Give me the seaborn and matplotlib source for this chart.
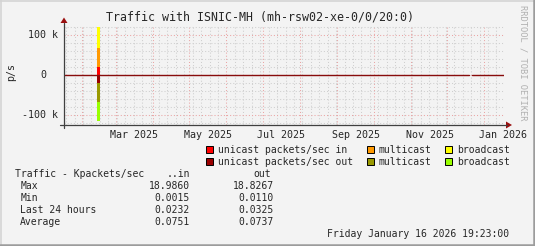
import numpy as np
import pandas as pd
import matplotlib
matplotlib.use("Agg")
import matplotlib.pyplot as plt
import matplotlib.dates as mdates
import matplotlib.transforms as mtrans
from matplotlib.patches import Rectangle
import seaborn as sns

# ---------------- data (k packets/s) ----------------
times = ["2025-01-16 19:23", "2025-02-14 00:00", "2025-02-16 06:00",
         "2025-12-19 00:00", "2025-12-22 00:00", "2026-01-16 19:23"]
unicast_in = [0.02, 18.986, 0.02, np.nan, 0.02, 0.02]
multicast_in = [0.0, 49.0, 0.0, np.nan, 0.0, 0.0]
broadcast_in = [0.0, 51.0, 0.0, np.nan, 0.0, 0.0]
unicast_out = [0.03, 18.83, 0.03, np.nan, 0.03, 0.03]
multicast_out = [0.0, 48.0, 0.0, np.nan, 0.0, 0.0]
broadcast_out = [0.0, 48.3, 0.0, np.nan, 0.0, 0.0]

x_labels = ["Mar 2025", "May 2025", "Jul 2025", "Sep 2025", "Nov 2025", "Jan 2026"]
x_label_dates = ["2025-03-16 12:00", "2025-05-16 12:00", "2025-07-16 12:00",
                 "2025-09-16 12:00", "2025-11-16 12:00", "2026-01-16 12:00"]

legend_items = [("unicast packets/sec in", "#ff0000"), ("multicast", "#ff9900"), ("broadcast", "#ffff00"),
                ("unicast packets/sec out", "#990000"), ("multicast", "#999900"), ("broadcast", "#99ff00")]

stat_rows = ["Max", "Min", "Last 24 hours", "Average"]
stat_in = ["18.9860", "0.0015", "0.0232", "0.0751"]
stat_out = ["18.8267", "0.0110", "0.0325", "0.0737"]

title = "Traffic with ISNIC-MH (mh-rsw02-xe-0/0/20:0)"
footer = "Friday January 16 2026 19:23:00"

# ---------------- style ----------------
sns.set_style("white")
plt.rcParams["font.family"] = ["DejaVu Sans Mono"]

W, H = 535, 246
BG = "#f3f3f3"
fig = plt.figure(figsize=(W / 100, H / 100), dpi=100, facecolor=BG)

def fx(x):
    return x / W

def fy(y):
    return 1 - y / H

ax = fig.add_axes([fx(63.5), fy(125), 440 / W, 100 / H])
ax.set_facecolor(BG)

t = pd.to_datetime(times)
ui = np.array(unicast_in); mi = np.array(multicast_in); bi = np.array(broadcast_in)
uo = np.array(unicast_out); mo = np.array(multicast_out); bo = np.array(broadcast_out)

ax.fill_between(t, 0, ui, step="post", color="#ff0000", lw=0)
ax.fill_between(t, ui, ui + mi, step="post", color="#ff9900", lw=0)
ax.fill_between(t, ui + mi, ui + mi + bi, step="post", color="#ffff00", lw=0)
ax.fill_between(t, 0, -uo, step="post", color="#990000", lw=0)
ax.fill_between(t, -uo, -uo - mo, step="post", color="#999900", lw=0)
ax.fill_between(t, -uo - mo, -uo - mo - bo, step="post", color="#99ff00", lw=0)

# near-zero baseline (unicast in, with the data gap kept)
base = pd.DataFrame({"t": t, "v": np.where(np.isnan(ui), np.nan, ui * 0)})
ax.plot(base["t"], base["v"], drawstyle="steps-post", color="#880c0c", lw=1.0, zorder=5)

ax.set_xlim(t[0], t[-1])
ax.set_ylim(-125, 125)

ax.xaxis.set_major_locator(mdates.MonthLocator())
ax.xaxis.set_minor_locator(mdates.WeekdayLocator(byweekday=mdates.SU))
ax.set_yticks([-100, 0, 100])
ax.set_yticks(np.arange(-120, 121, 20), minor=True)
ax.set_xticklabels([]); ax.set_yticklabels([])
ax.tick_params(which="major", length=4, width=0.8, direction="inout", color="#e08a8a")
ax.tick_params(which="minor", length=3, width=0.8, direction="inout", color="#bdbdbd")
ax.set_axisbelow(True)
ax.grid(which="major", color="#eaa5a5", ls=(0, (1, 2)), lw=0.75)
ax.grid(which="minor", color="#cfcfcf", ls=(0, (1, 2)), lw=0.75)
for s in ax.spines.values():
    s.set_visible(False)

# axes lines with arrows (figure pixel coordinates)
fig.add_artist(plt.Line2D([fx(60), fx(507)], [fy(125), fy(125)], color="#404040", lw=0.9))
fig.add_artist(plt.Line2D([fx(64), fx(64)], [fy(128), fy(23)], color="#404040", lw=0.9))
fig.add_artist(plt.Polygon([[fx(506), fy(121.5)], [fx(512), fy(125)], [fx(506), fy(128.5)]],
                           closed=True, color="#9a1010", lw=0))
fig.add_artist(plt.Polygon([[fx(60.5), fy(23)], [fx(64), fy(17.5)], [fx(67.5), fy(23)]],
                           closed=True, color="#9a1010", lw=0))

# y tick labels
ytr = mtrans.blended_transform_factory(fig.transFigure, ax.transData)
ax.text(fx(58.5), 100, "100 k", transform=ytr, ha="right", va="center", fontsize=7.2)
ax.text(fx(46.3), 0, "0", transform=ytr, ha="right", va="center", fontsize=7.2)
ax.text(fx(58.5), -100, "-100 k", transform=ytr, ha="right", va="center", fontsize=7.2)

# x tick labels
xtr = mtrans.blended_transform_factory(ax.transData, fig.transFigure)
for lab, d in zip(x_labels, pd.to_datetime(x_label_dates)):
    ax.text(d, fy(135), lab, transform=xtr, ha="center", va="center", fontsize=7.2, clip_on=False)

# y axis label
fig.text(fx(11), fy(72), "p/s", rotation=90, ha="center", va="center", fontsize=7.2)

# title
fig.text(fx(260), fy(17), title, ha="center", va="center", fontsize=8.4)

# watermark
fig.text(fx(523), fy(5), "RRDTOOL / TOBI OETIKER", rotation=270, ha="center", va="top",
         fontsize=6.3, color="#b0b0b0")

# legend
sq_x = [205.5, 366.5, 444.5]
rows_y = [149.7, 161.7]
for i, (lab, col) in enumerate(legend_items):
    r, c = divmod(i, 3)
    x0 = sq_x[c]; yc = rows_y[r]
    fig.add_artist(Rectangle((fx(x0), fy(yc + 3.5)), 7 / W, 7 / H, facecolor=col,
                             edgecolor="black", lw=0.7))
    fig.text(fx(x0 + 12.5), fy(yc), lab, ha="left", va="center", fontsize=7.0)

# stats table
fig.text(fx(15), fy(173.7), "Traffic - Kpackets/sec", ha="left", va="center", fontsize=7.0)
fig.text(fx(189.8), fy(173.7), "..in", ha="right", va="center", fontsize=7.0)
fig.text(fx(271.5), fy(173.7), "out", ha="right", va="center", fontsize=7.0)
for k, (rname, vi, vo) in enumerate(zip(stat_rows, stat_in, stat_out)):
    yy = 185.7 + 12 * k
    fig.text(fx(20.3), fy(yy), rname, ha="left", va="center", fontsize=7.0)
    fig.text(fx(190), fy(yy), vi, ha="right", va="center", fontsize=7.0)
    fig.text(fx(274), fy(yy), vo, ha="right", va="center", fontsize=7.0)

fig.text(fx(509), fy(233.7), footer, ha="right", va="center", fontsize=7.0)

# 3D frame
fig.add_artist(plt.Line2D([0, 1], [fy(0.75), fy(0.75)], color="#d4d4d4", lw=1.2))
fig.add_artist(plt.Line2D([fx(0.75), fx(0.75)], [0, 1], color="#d4d4d4", lw=1.2))
fig.add_artist(plt.Line2D([0, 1], [fy(244.8), fy(244.8)], color="#9c9c9c", lw=1.8))
fig.add_artist(plt.Line2D([fx(533.8), fx(533.8)], [0, 1], color="#9c9c9c", lw=1.8))

fig.savefig("out.png", dpi=100, facecolor=BG)
